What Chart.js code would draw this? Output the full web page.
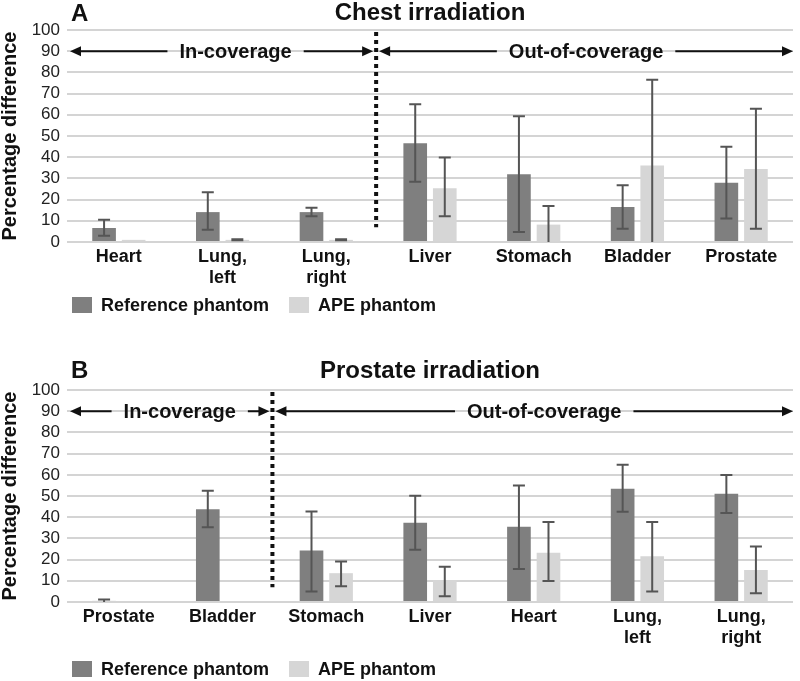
<!DOCTYPE html>
<html>
<head>
<meta charset="utf-8">
<script src="https://cdn.jsdelivr.net/npm/chart.js@4.4.1/dist/chart.umd.min.js"></script>
<style>
  body { margin: 0; background: #fff; }
  canvas { display: block; }
</style>
</head>
<body>
<canvas id="chestChart" width="800" height="340"></canvas>
<canvas id="prostateChart" width="800" height="341"></canvas>
<script>
// Chest irradiation (panel A)
const chestOrgans = ['Heart', ['Lung,', 'left'], ['Lung,', 'right'], 'Liver', 'Stomach', 'Bladder', 'Prostate'];
const chestRef = [6.6, 14.1, 14.1, 46.6, 32.0, 16.5, 27.9];
const chestRefHi = [10.5, 23.5, 16.2, 65.0, 59.3, 26.8, 44.9];
const chestRefLo = [3.0, 5.8, 12.1, 28.4, 4.7, 6.3, 11.1];
const chestApe = [1.0, 1.0, 1.0, 25.4, 8.2, 36.1, 34.4];
const chestApeHi = [null, 1.3, 1.3, 39.9, 17.0, 76.5, 62.8];
const chestApeLo = [null, 0.8, 0.8, 12.1, 0, 0, 6.3];

// Prostate irradiation (panel B)
const prostateOrgans = ['Prostate', 'Bladder', 'Stomach', 'Liver', 'Heart', ['Lung,', 'left'], ['Lung,', 'right']];
const prostateRef = [0.5, 43.8, 24.3, 37.4, 35.5, 53.5, 51.1];
const prostateRefHi = [1.2, 52.5, 42.7, 50.2, 55.0, 64.8, 59.9];
const prostateRefLo = [0, 35.3, 5.0, 24.6, 15.6, 42.6, 42.0];
const prostateApe = [0, 0, 13.6, 10.3, 23.3, 21.6, 15.1];
const prostateApeHi = [null, null, 19.1, 16.6, 37.7, 37.7, 26.2];
const prostateApeLo = [null, null, 7.4, 2.7, 9.9, 5.0, 4.1];

const yTicks = [0, 10, 20, 30, 40, 50, 60, 70, 80, 90, 100];
const seriesNames = ['Reference phantom', 'APE phantom'];
const zoneLabels = ['In-coverage', 'Out-of-coverage'];

Chart.defaults.font.family = "'Liberation Sans', Arial, sans-serif";
Chart.defaults.color = '#111';

// Error bars drawn on top of each bar
const errorBars = {
  id: 'errorBars',
  afterDatasetsDraw(chart) {
    const ctx = chart.ctx;
    const y = chart.scales.y;
    ctx.save();
    ctx.strokeStyle = '#555';
    ctx.lineWidth = 2;
    chart.data.datasets.forEach((ds, di) => {
      chart.getDatasetMeta(di).data.forEach((bar, i) => {
        const hi = ds.errHi[i], lo = ds.errLo[i];
        if (hi == null) return;
        const yHi = y.getPixelForValue(hi);
        const yLo = y.getPixelForValue(lo);
        ctx.beginPath();
        ctx.moveTo(bar.x, yHi);
        ctx.lineTo(bar.x, yLo);
        ctx.moveTo(bar.x - 6, yHi);
        ctx.lineTo(bar.x + 6, yHi);
        if (lo > 0) {
          ctx.moveTo(bar.x - 6, yLo);
          ctx.lineTo(bar.x + 6, yLo);
        }
        ctx.stroke();
      });
    });
    ctx.restore();
  }
};

function arrowHead(ctx, x, y, dir) {
  ctx.beginPath();
  ctx.moveTo(x, y);
  ctx.lineTo(x - dir * 11, y - 5);
  ctx.lineTo(x - dir * 11, y + 5);
  ctx.closePath();
  ctx.fill();
}

// Arrow with a label in the middle, from x1 to x2
function zoneArrow(ctx, x1, x2, y, text, shift) {
  ctx.font = 'bold 20px "Liberation Sans", Arial, sans-serif';
  const mid = (x1 + x2) / 2 + shift;
  const half = ctx.measureText(text).width / 2 + 12;
  ctx.beginPath();
  ctx.moveTo(x1 + 4, y);
  ctx.lineTo(mid - half, y);
  ctx.moveTo(mid + half, y);
  ctx.lineTo(x2 - 4, y);
  ctx.stroke();
  arrowHead(ctx, x1, y, -1);
  arrowHead(ctx, x2, y, 1);
  ctx.textAlign = 'center';
  ctx.textBaseline = 'middle';
  ctx.fillText(text, mid, y + 1);
}

// Coverage divider, arrows, panel letter and legend
const panelExtras = {
  id: 'panelExtras',
  afterDraw(chart, args, opts) {
    const ctx = chart.ctx;
    const x = chart.scales.x, y = chart.scales.y;
    const area = chart.chartArea;
    const split = (x.getPixelForValue(opts.split) + x.getPixelForValue(opts.split + 1)) / 2 - 2;
    ctx.save();

    // dotted divider
    ctx.strokeStyle = '#111';
    ctx.lineWidth = 4;
    ctx.setLineDash([4, 4]);
    ctx.beginPath();
    ctx.moveTo(split, y.getPixelForValue(100) + 2);
    ctx.lineTo(split, y.getPixelForValue(7));
    ctx.stroke();
    ctx.setLineDash([]);

    // coverage arrows at 90
    ctx.lineWidth = 2;
    ctx.fillStyle = '#111';
    const ay = y.getPixelForValue(90);
    zoneArrow(ctx, area.left + 3, split - 3, ay, zoneLabels[0], opts.shifts[0]);
    zoneArrow(ctx, split + 3, area.right, ay, zoneLabels[1], opts.shifts[1]);

    // panel letter
    ctx.font = 'bold 24px "Liberation Sans", Arial, sans-serif';
    ctx.textAlign = 'left';
    ctx.textBaseline = 'middle';
    ctx.fillText(opts.letter, area.left + 4, opts.letterY);

    // legend
    ctx.font = 'bold 18px "Liberation Sans", Arial, sans-serif';
    let lx = area.left + 5;
    const ly = area.bottom + opts.legendOffset;
    chart.data.datasets.forEach(ds => {
      ctx.fillStyle = ds.backgroundColor;
      ctx.fillRect(lx, ly - 8, 20, 16);
      ctx.fillStyle = '#111';
      ctx.fillText(ds.label, lx + 29, ly + 1);
      lx += 29 + ctx.measureText(ds.label).width + 20;
    });
    ctx.restore();
  }
};

function makeChart(id, opts) {
  return new Chart(document.getElementById(id), {
    type: 'bar',
    data: {
      labels: opts.labels,
      datasets: [{
        label: seriesNames[0],
        data: opts.ref,
        errHi: opts.refHi,
        errLo: opts.refLo,
        backgroundColor: '#7f7f7f',
        categoryPercentage: 0.57,
        barPercentage: 0.8
      }, {
        label: seriesNames[1],
        data: opts.ape,
        errHi: opts.apeHi,
        errLo: opts.apeLo,
        backgroundColor: '#d6d6d6',
        categoryPercentage: 0.57,
        barPercentage: 0.8
      }]
    },
    options: {
      responsive: false,
      animation: false,
      layout: { padding: { top: opts.padTop, bottom: opts.padBottom, right: 7, left: 0 } },
      plugins: {
        legend: { display: false },
        tooltip: { enabled: false },
        title: {
          display: true,
          text: opts.title,
          fullSize: false,
          font: { size: 24, weight: 'bold', lineHeight: 1.15 },
          padding: { top: opts.titleTop, bottom: opts.titleBottom }
        },
        panelExtras: {
          split: opts.split,
          shifts: opts.shifts,
          letter: opts.letter,
          letterY: opts.letterY,
          legendOffset: opts.legendOffset
        }
      },
      scales: {
        x: {
          grid: { display: false, drawTicks: false },
          border: { display: false },
          ticks: { font: { size: 18, weight: 'bold' }, color: '#111', padding: 4, maxRotation: 0, autoSkip: false },
          afterFit: s => { s.height = 56; }
        },
        y: {
          min: 0,
          max: 100,
          afterBuildTicks: s => { s.ticks = yTicks.map(v => ({ value: v })); },
          afterFit: s => { s.width = 67; },
          grid: { color: '#d4d4d4', lineWidth: 2, drawTicks: false },
          border: { display: false },
          ticks: { font: { size: 17 }, color: '#222', padding: 7, autoSkip: false },
          title: {
            display: true,
            text: 'Percentage difference',
            font: { size: 20, weight: 'bold', lineHeight: 1 },
            padding: 0
          }
        }
      }
    },
    plugins: [errorBars, panelExtras]
  });
}

makeChart('chestChart', {
  labels: chestOrgans,
  ref: chestRef, refHi: chestRefHi, refLo: chestRefLo,
  ape: chestApe, apeHi: chestApeHi, apeLo: chestApeLo,
  title: 'Chest irradiation',
  letter: 'A', letterY: 14,
  split: 2, shifts: [14, 0],
  padTop: 0, titleTop: 0, titleBottom: 2.4,
  padBottom: 42, legendOffset: 63
});

makeChart('prostateChart', {
  labels: prostateOrgans,
  ref: prostateRef, refHi: prostateRefHi, refLo: prostateRefLo,
  ape: prostateApe, apeHi: prostateApeHi, apeLo: prostateApeLo,
  title: 'Prostate irradiation',
  letter: 'B', letterY: 31.5,
  split: 1, shifts: [10, 10],
  padTop: 14, titleTop: 4, titleBottom: 4.5,
  padBottom: 23, legendOffset: 67
});
</script>
</body>
</html>
